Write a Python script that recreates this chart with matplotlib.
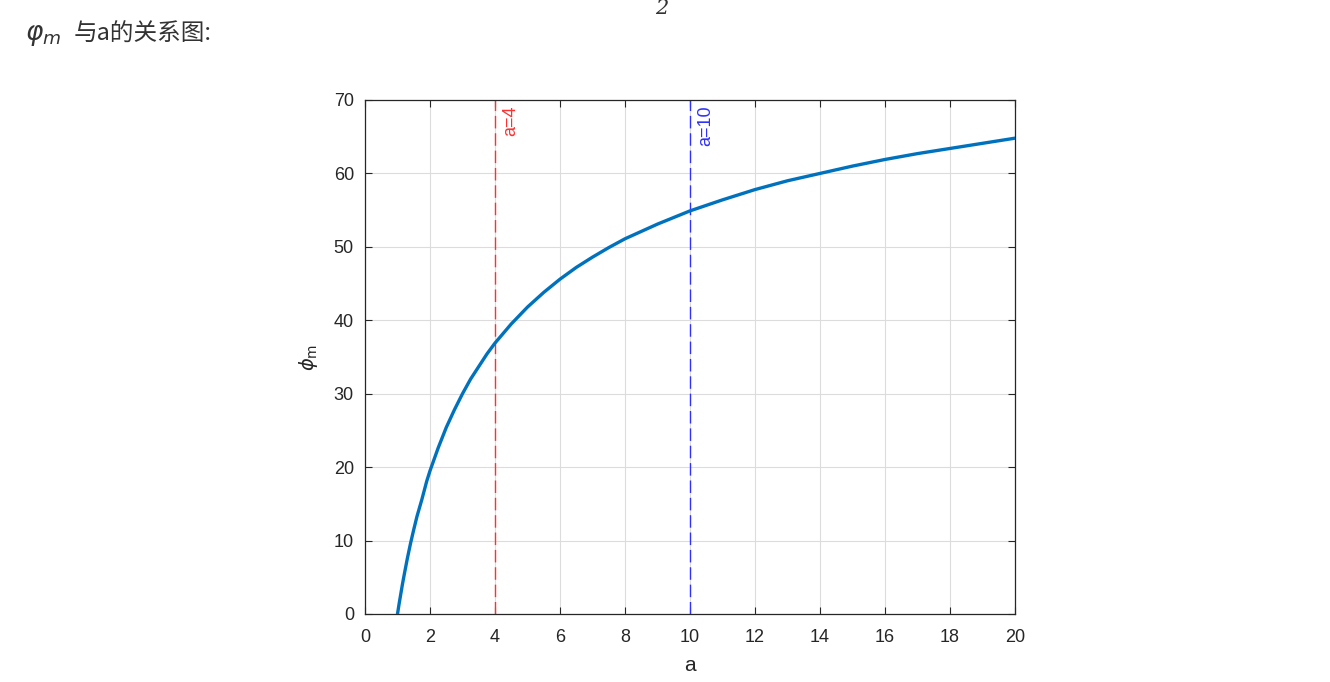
import matplotlib
matplotlib.use("Agg")
import matplotlib.pyplot as plt

# values
a_vals = [1.0, 1.05, 1.1, 1.15, 1.2, 1.3, 1.4, 1.5, 1.6, 1.75, 1.9, 2.0,
          2.25, 2.5, 2.75, 3.0, 3.25, 3.5, 3.75, 4.0, 4.5, 5.0, 5.5, 6.0,
          6.5, 7.0, 7.5, 8.0, 8.5, 9.0, 10.0, 11.0, 12.0, 13.0, 14.0, 15.0,
          16.0, 17.0, 18.0, 19.0, 20.0]
phi_vals = [0.0, 1.4, 2.7, 4.0, 5.2, 7.5, 9.6, 11.5, 13.3, 15.6, 18.1, 19.5,
            22.6, 25.4, 27.8, 30.0, 32.0, 33.7, 35.4, 36.9, 39.5, 41.8, 43.8,
            45.6, 47.2, 48.6, 49.9, 51.1, 52.1, 53.1, 54.9, 56.4, 57.8, 59.0,
            60.0, 61.0, 61.9, 62.7, 63.4, 64.1, 64.8]
marks = [4, 10]
mark_labels = ['a=4', 'a=10']
mark_colors = ['#ff3030', '#3030ff']

plt.rcParams['font.family'] = ['Liberation Sans', 'Noto Sans CJK SC']

fig = plt.figure(figsize=(13.3, 6.82), dpi=100)
ax = fig.add_axes([365 / 1330, 1 - 614 / 682, 650 / 1330, 514 / 682])

ax.plot(a_vals, phi_vals, color='#0072BD', lw=2.4, zorder=3,
        solid_joinstyle='round')
for m, lab, c in zip(marks, mark_labels, mark_colors):
    ax.axvline(m, color=c, ls=(0, (9, 3.5)), lw=1.0, zorder=2)
    ax.text(m + 0.22, 69.2, lab, color=c, rotation=90, ha='left', va='top',
            fontsize=13)

ax.set_xlim(0, 20)
ax.set_ylim(0, 70)
ax.set_xticks(range(0, 21, 2))
ax.set_yticks(range(0, 71, 10))
ax.grid(True, color='#dcdcdc', lw=0.8)
ax.set_axisbelow(True)
ax.tick_params(direction='in', length=5, labelsize=13, colors='#262626',
               top=True, right=True, labeltop=False, labelright=False)
ax.tick_params(axis='x', pad=11)
ax.tick_params(axis='y', pad=8)
for s in ax.spines.values():
    s.set_color('#262626')
    s.set_linewidth(0.9)
ax.set_xlabel('a', fontsize=15, color='#262626', labelpad=7)
ax.set_ylabel(r'$\phi_{\rm m}$', fontsize=14, color='#262626', labelpad=10)

fig.text(25 / 1330, 1 - 36 / 682, r'$\varphi_m$', fontsize=19,
         va='center', ha='left', color='#333333')
fig.text(74 / 1330, 1 - 34 / 682, '与a的关系图:', fontsize=17,
         va='center', ha='left', color='#333333',
         family=['Noto Sans CJK SC', 'DejaVu Sans'])
fig.text(662 / 1330, 1 - 8 / 682, '2', fontsize=15, va='center',
         ha='center', color='#333333', family='DejaVu Serif', style='italic')

fig.savefig('out.png', dpi=100)
